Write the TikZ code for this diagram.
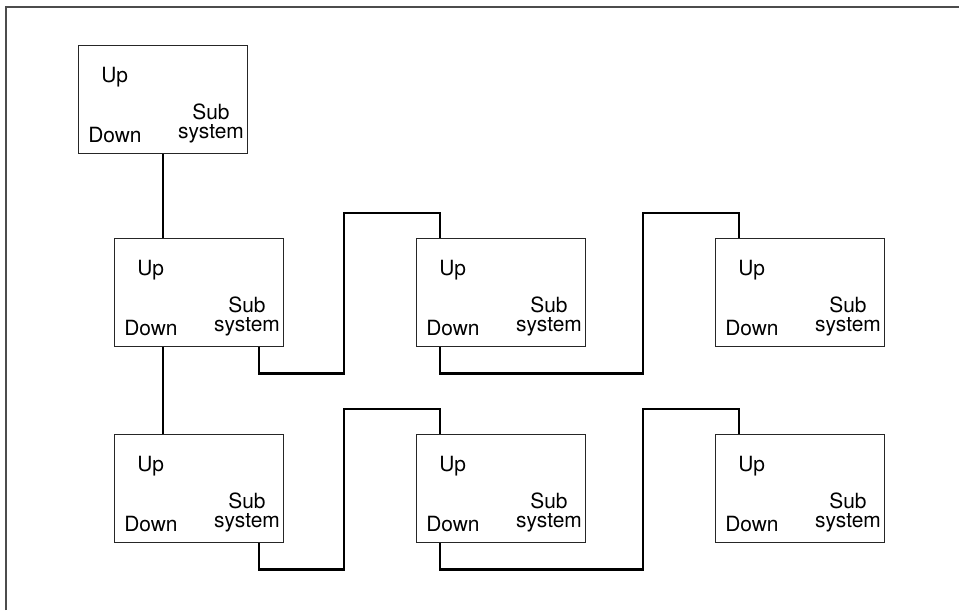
\documentclass[tikz,border=0pt]{standalone}
\usepackage{fontspec}
\setmainfont{TeX Gyre Heros}
\usetikzlibrary{calc,positioning}
\tikzset{
    subbox/.style={draw=black!85, line width=0.9pt, anchor=north west,
                   minimum width=126.75pt, minimum height=81pt, inner sep=0pt},
    link/.style={draw=black, line width=2pt},
    frame/.style={draw=black!70, line width=0.8pt},
    tag/.style={font=\fontsize{15.7}{14.25}\selectfont, inner sep=0pt},
}

\begin{document}
\begin{tikzpicture}[x=0.75pt, y=-0.75pt]
    \useasboundingbox (0,0) rectangle (959,610);
    \draw[frame] (6,610) |- (959,7);

    % boxes
    \node[subbox] (top)  at (78,45)   {};
    \node[subbox] (r1c1) at (114,238) {};
    \node[subbox] (r1c2) at (416,238) {};
    \node[subbox] (r1c3) at (715,238) {};
    \node[subbox] (r2c1) at (114,434) {};
    \node[subbox] (r2c2) at (416,434) {};
    \node[subbox] (r2c3) at (715,434) {};

    % labels
    \foreach \b in {top,r1c1,r1c2,r1c3,r2c1,r2c2,r2c3} {
        \node[tag, anchor=base west] (\b-up) at ($(\b.north west)+(23,37)$) {Up};
        \node[tag, anchor=base west] (\b-down) at ($(\b.north west)+(10,97)$) {Down};
        \node[tag, anchor=base, align=center] (\b-sub) at ($(\b.north west)+(133,93)$) {Sub\\system};
    }

    % connectors
    \draw[link] (top.south) -- (top.south |- r1c1.north);
    \draw[link] ($(r1c1.south west)+(49,0)$) -- ($(r2c1.north west)+(49,0)$);
    \foreach \a/\o/\b in {r1c1/145/r1c2, r1c2/24/r1c3, r2c1/145/r2c2, r2c2/24/r2c3} {
        \draw[link] ($(\a.south west)+(\o,0)$) -- ++(0,26)
            -| ($(\b.north west)+(-72,-25)$) -| ($(\b.north west)+(24,0)$);
    }
\end{tikzpicture}
\end{document}
